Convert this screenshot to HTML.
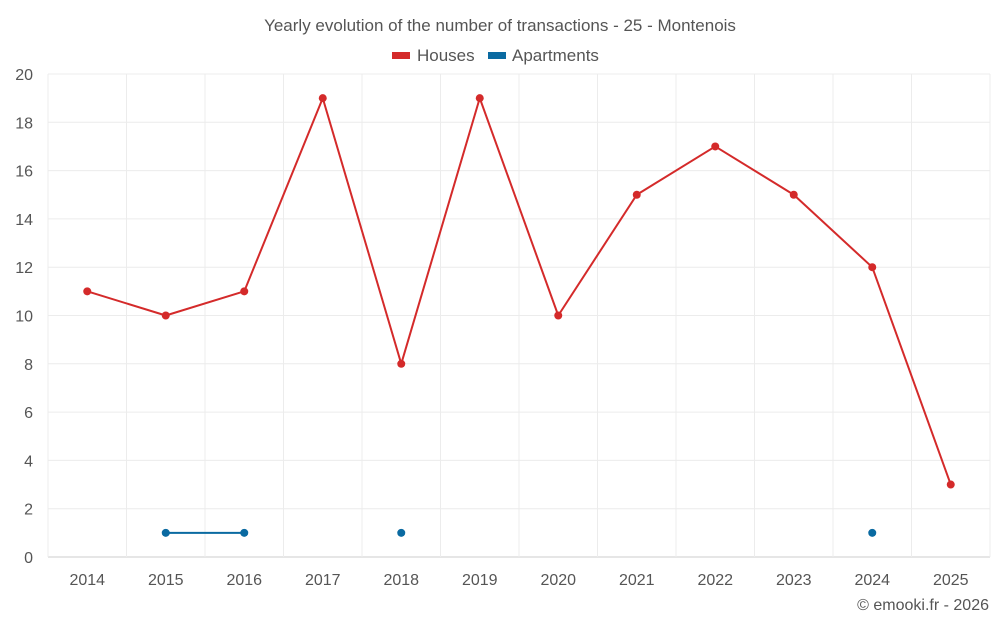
<!DOCTYPE html>
<html><head><meta charset="utf-8"><style>
body{margin:0;background:#fff;font-family:"Liberation Sans",sans-serif;}
svg text{font-family:"Liberation Sans",sans-serif;}
</style></head><body>
<svg id="chart" width="1000" height="625">
<text x="500" y="31" text-anchor="middle" font-size="17" fill="#555">Yearly evolution of the number of transactions - 25 - Montenois</text>
<g>
<g><rect x="392" y="52" width="18" height="7" fill="#d42a2a"/><text x="417" y="61" font-size="17" fill="#555">Houses</text></g>
<g><rect x="488" y="52" width="18" height="7" fill="#0a6aa1"/><text x="512" y="61" font-size="17" fill="#555">Apartments</text></g>
</g>
<g id="grid"></g><g id="axes"></g><g id="series"></g>
<text x="989" y="610" text-anchor="end" font-size="16" fill="#555">© emooki.fr - 2026</text>
</svg>
<script>
const years=["2014","2015","2016","2017","2018","2019","2020","2021","2022","2023","2024","2025"];
const houses=[11,10,11,19,8,19,10,15,17,15,12,3];
const apartments=[null,1,1,null,1,null,null,null,null,null,1,null];
const yTicks=[0,2,4,6,8,10,12,14,16,18,20];
const L=48,R=990,T=74,B=557,yMax=20;
const bw=(R-L)/years.length;
const x=i=>L+bw*(i+0.5);
const y=v=>B-(v/yMax)*(B-T);
const NS="http://www.w3.org/2000/svg";
function mk(tag,attrs,parent){const e=document.createElementNS(NS,tag);for(const k in attrs)e.setAttribute(k,attrs[k]);parent.appendChild(e);return e;}
const grid=document.getElementById('grid'),axes=document.getElementById('axes'),ser=document.getElementById('series');
yTicks.forEach(t=>{
 const l=mk('line',{x1:L,x2:R,y1:y(t),y2:y(t),stroke:t===0?'#ccc':'#ececec'},grid);
 
 
 const tx=mk('text',{x:33,y:y(t)+6,'text-anchor':'end','font-size':16,fill:'#555'},axes);
 tx.textContent=t;
 
 
});
for(let i=0;i<=years.length;i++){
 const l=mk('line',{x1:L+bw*i,x2:L+bw*i,y1:T,y2:B,stroke:'#ececec'},grid);
 
 
}
years.forEach((yr,i)=>{
 const tx=mk('text',{x:x(i),y:585,'text-anchor':'middle','font-size':16,fill:'#555'},axes);
 tx.textContent=yr;
 
 
});
function draw(vals,color,name){
 const g=mk('g',{},ser);
 
 
 for(let i=0;i<vals.length-1;i++){
  if(vals[i]!=null&&vals[i+1]!=null){
   const l=mk('line',{x1:x(i),y1:y(vals[i]),x2:x(i+1),y2:y(vals[i+1]),stroke:color,'stroke-width':2},g);
   
   
  }
 }
 vals.forEach((v,i)=>{ if(v==null)return;
  const c=mk('circle',{cx:x(i),cy:y(v),r:4,fill:color},g);
  
  
 });
}
draw(houses,'#d42a2a','houses');
draw(apartments,'#0a6aa1','apartments');
</script>
</body></html>
